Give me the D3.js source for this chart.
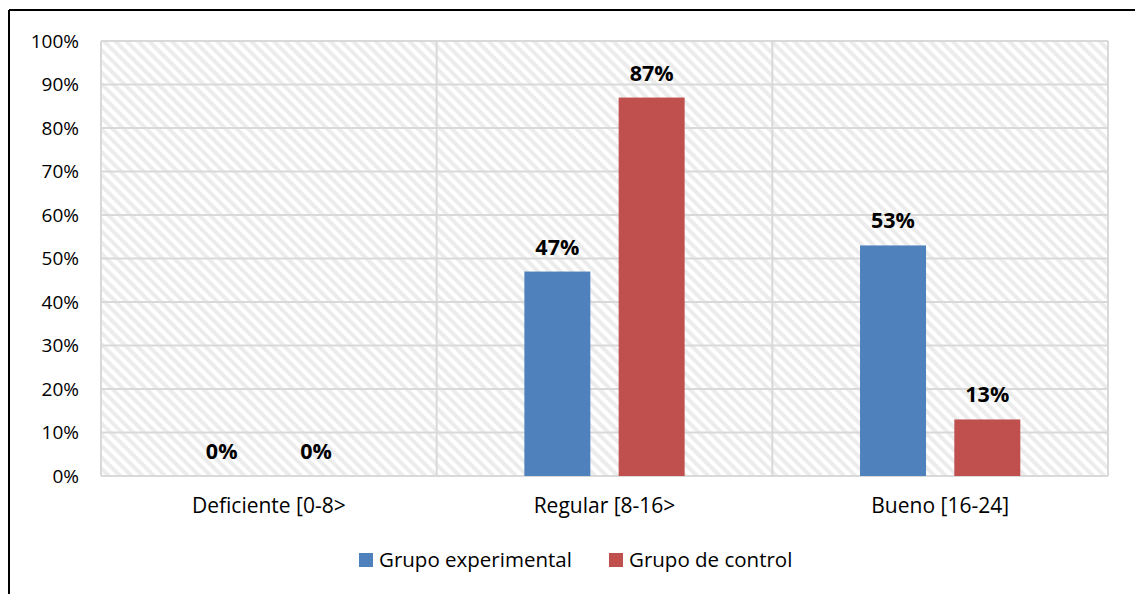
<!DOCTYPE html>
<html>
<head>
<meta charset="utf-8">
<script src="https://cdn.jsdelivr.net/npm/d3@7"></script>
<style>
  body { margin: 0; background: #fff; }
  svg text { font-family: "Open Sans", Lato, sans-serif; fill: #000; }
</style>
</head>
<body>
<svg id="chart" width="1135" height="594"></svg>
<script>
const categories = ['Deficiente [0-8>', 'Regular [8-16>', 'Bueno [16-24]']
const seriesNames = ['Grupo experimental', 'Grupo de control']
const experimental = [0, 47, 53]
const control = [0, 87, 13]
const yTicks = [0, 10, 20, 30, 40, 50, 60, 70, 80, 90, 100]
const colors = ['#4f81bd', '#c0504d']

const margin = { top: 41, left: 101, right: 27, bottom: 118 }
const width = 1135 - margin.left - margin.right
const height = 594 - margin.top - margin.bottom

const svg = d3.select('#chart')

// hatch pattern for plot background
const defs = svg.append('defs')
const pat = defs.append('pattern')
  .attr('id', 'hatch')
  .attr('patternUnits', 'userSpaceOnUse')
  .attr('width', 8).attr('height', 8)
  .attr('patternTransform', 'rotate(-45)')
pat.append('rect').attr('width', 8).attr('height', 8).attr('fill', '#ffffff')
pat.append('rect').attr('x', 0).attr('width', 4).attr('height', 8).attr('fill', '#ececec')

// outer frame (only top and left visible)
svg.append('line').attr('x1', 9).attr('x2', 1135).attr('y1', 10).attr('y2', 10)
  .attr('stroke', '#000').attr('stroke-width', 2)
svg.append('line').attr('x1', 9).attr('x2', 9).attr('y1', 10).attr('y2', 594)
  .attr('stroke', '#000').attr('stroke-width', 2)

const chart = svg.append('g')
  .attr('transform', `translate(${margin.left}, ${margin.top})`)

const xScale = d3.scaleBand()
  .domain(categories)
  .range([0, width])

const xInner = d3.scaleBand()
  .domain(seriesNames)
  .range([0, xScale.bandwidth()])
  .paddingInner(0.3)
  .paddingOuter(0.93)

const yScale = d3.scaleLinear()
  .domain([0, 100])
  .range([height, 0])

chart.append('rect')
  .attr('width', width).attr('height', height)
  .attr('fill', 'url(#hatch)')

// horizontal gridlines
chart.append('g')
  .selectAll('line')
  .data(yTicks)
  .enter()
  .append('line')
    .attr('x1', 0).attr('x2', width)
    .attr('y1', d => yScale(d)).attr('y2', d => yScale(d))
    .attr('stroke', '#d9d9d9').attr('stroke-width', 2)

// vertical category separators
chart.append('g')
  .selectAll('line')
  .data(d3.range(categories.length + 1))
  .enter()
  .append('line')
    .attr('x1', i => i * xScale.step()).attr('x2', i => i * xScale.step())
    .attr('y1', 0).attr('y2', height)
    .attr('stroke', '#d9d9d9').attr('stroke-width', 2)

const yAxis = chart.append('g')
  .call(d3.axisLeft(yScale)
    .tickValues(yTicks)
    .tickSize(0)
    .tickPadding(22)
    .tickFormat(d => d + '%'))
yAxis.select('.domain').remove()
yAxis.selectAll('text')
  .style('font-size', '19px')
  .attr('fill', '#000')

const xAxis = chart.append('g')
  .attr('transform', `translate(0, ${height})`)
  .call(d3.axisBottom(xScale).tickSize(0).tickPadding(22))
xAxis.select('.domain').remove()
xAxis.selectAll('text')
  .style('font-size', '21px')
  .attr('fill', '#000')

const rows = categories.map((c, i) => ({
  category: c,
  values: [
    { series: seriesNames[0], value: experimental[i], color: colors[0] },
    { series: seriesNames[1], value: control[i], color: colors[1] }
  ]
}))

const groups = chart.append('g')
  .selectAll('g')
  .data(rows)
  .enter()
  .append('g')
    .attr('transform', d => `translate(${xScale(d.category)}, 0)`)

groups.selectAll('rect')
  .data(d => d.values)
  .enter()
  .append('rect')
    .attr('x', d => xInner(d.series))
    .attr('y', d => yScale(d.value))
    .attr('width', xInner.bandwidth())
    .attr('height', d => height - yScale(d.value))
    .attr('fill', d => d.color)

groups.selectAll('text')
  .data(d => d.values)
  .enter()
  .append('text')
    .attr('x', d => xInner(d.series) + xInner.bandwidth() / 2)
    .attr('y', d => yScale(d.value) - 17)
    .attr('text-anchor', 'middle')
    .style('font-size', '21.5px')
    .style('font-weight', 'bold')
    .text(d => d.value + '%')

// legend
const legend = svg.append('g')
  .attr('transform', 'translate(359, 560)')
const legendX = [0, 250]
seriesNames.forEach((name, i) => {
  legend.append('rect')
    .attr('x', legendX[i]).attr('y', -7)
    .attr('width', 14).attr('height', 14)
    .attr('fill', colors[i])
  legend.append('text')
    .attr('x', legendX[i] + 20).attr('y', 0)
    .attr('dy', '0.35em')
    .style('font-size', '20.5px')
    .text(name)
})
</script>
</body>
</html>
